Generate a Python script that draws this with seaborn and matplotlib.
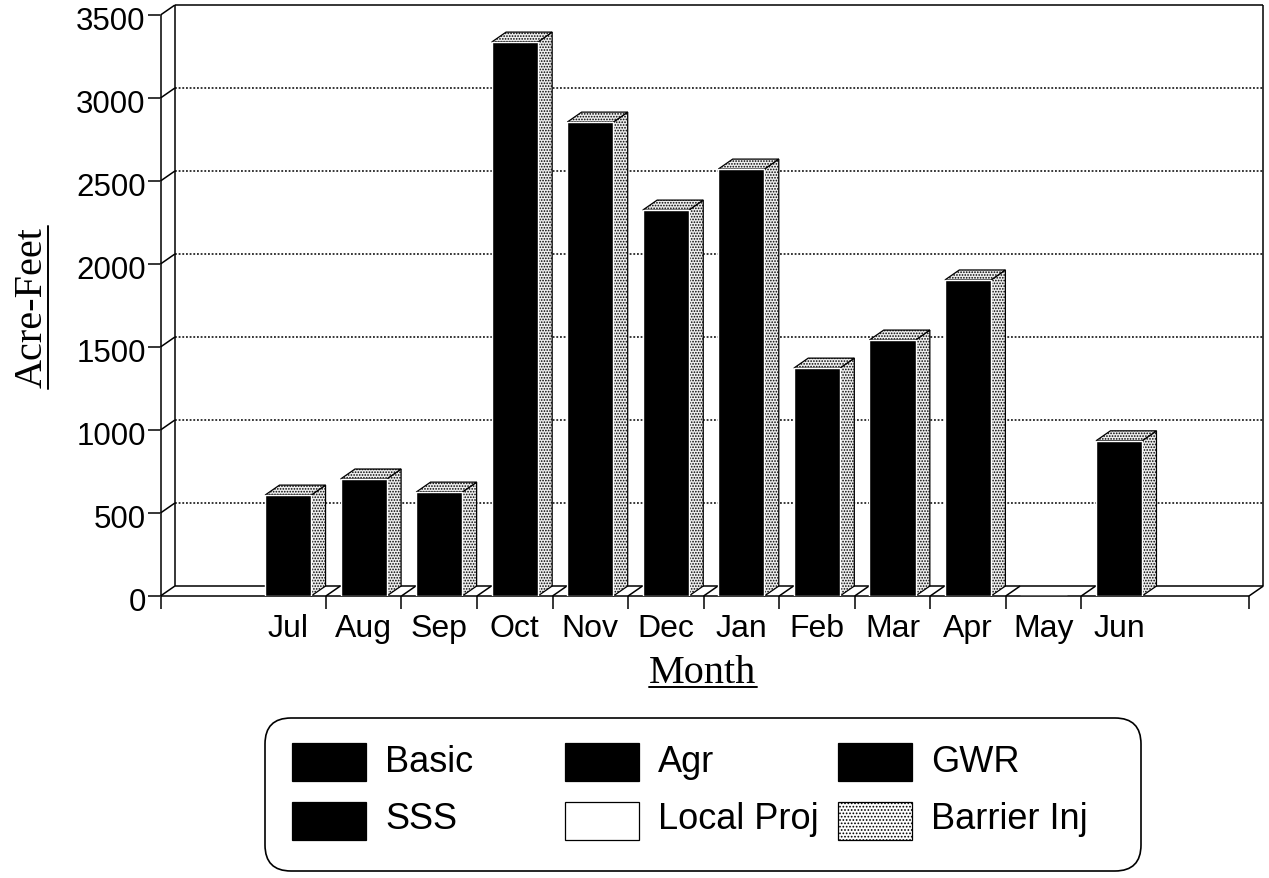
import numpy as np
import pandas as pd
import seaborn as sns
import matplotlib
matplotlib.use("Agg")
import matplotlib.pyplot as plt
from matplotlib.patches import FancyBboxPatch, Polygon, Rectangle
from matplotlib.transforms import ScaledTranslation

months = ["Jul", "Aug", "Sep", "Oct", "Nov", "Dec", "Jan", "Feb", "Mar", "Apr", "May", "Jun"]
acre_feet = [608, 705, 626, 3337, 2855, 2325, 2572, 1373, 1542, 1904, 0, 935]
y_ticks = [0, 500, 1000, 1500, 2000, 2500, 3000, 3500]
legend_names = ["Basic", "SSS", "Agr", "Local Proj", "GWR", "Barrier Inj"]
legend_fill = ["black", "black", "black", "white", "black", "white"]
legend_hatch = ["", "", "", "", "", "....."]

W, H = 1269, 879
X_MIN, X_MAX = -1.69, 12.72
# how far the back wall sits behind the front plane
DEPTH_X, DEPTH_Y = 0.19, 60

sns.set_theme(style="white")
plt.rcParams["font.family"] = ["Liberation Sans", "DejaVu Sans"]
plt.rcParams["hatch.linewidth"] = 0.8
plt.rcParams["hatch.color"] = "black"

df = pd.DataFrame({"month": months, "acre_feet": acre_feet})

fig = plt.figure(figsize=(W / 100, H / 100), dpi=100)
ax = fig.add_axes([160.5 / W, 1 - 597 / H, (1249 - 160.5) / W, (597 - 16) / H])

sns.barplot(data=df, x="month", y="acre_feet", color="black", saturation=1,
            width=0.61, ax=ax, zorder=5)
ax.set_xlim(X_MIN, X_MAX)
ax.set_ylim(0, 3500)
for s in ax.spines.values():
    s.set_visible(False)

# walls and floor
line_kw = dict(color="black", lw=1.1, clip_on=False, solid_capstyle="butt")
ax.plot([X_MIN, X_MIN], [-78, 3500], **line_kw)
ax.plot([X_MIN + DEPTH_X] * 2, [DEPTH_Y, 3500 + DEPTH_Y], **line_kw)
ax.plot([X_MAX + DEPTH_X] * 2, [DEPTH_Y, 3500 + DEPTH_Y], **line_kw)
ax.plot([X_MAX, X_MAX], [0, -78], **line_kw)
ax.plot([X_MAX, X_MAX + DEPTH_X], [0, DEPTH_Y], **line_kw)
ax.plot([X_MIN, X_MAX], [0, 0], **line_kw)
ax.plot([X_MIN + DEPTH_X, X_MAX + DEPTH_X], [DEPTH_Y, DEPTH_Y], **line_kw)
ax.plot([X_MIN + DEPTH_X, X_MAX + DEPTH_X], [3500 + DEPTH_Y] * 2, **line_kw)

# gridlines on the back wall, with the little slant back from the axis
for v in y_ticks:
    ax.plot([X_MIN, X_MIN + DEPTH_X], [v, v + DEPTH_Y], **line_kw)
    if 0 < v < 3500:
        ax.plot([X_MIN + DEPTH_X, X_MAX + DEPTH_X], [v + DEPTH_Y, v + DEPTH_Y],
                color="black", lw=1.1, ls=(0, (1.2, 1.2)), clip_on=False, zorder=1)

# month separators on the floor
for x in np.arange(len(months) - 1) + 0.5:
    ax.plot([x, x], [0, -78], **line_kw)
    ax.plot([x, x + DEPTH_X], [0, DEPTH_Y], **line_kw)

# side and top faces of each bar
face_kw = dict(facecolor="#eeeeee", edgecolor="black", hatch="......", lw=0.9,
               clip_on=False, zorder=4)
for bar in ax.patches:
    h = bar.get_height()
    if h <= 0:
        continue
    x0, x1 = bar.get_x(), bar.get_x() + bar.get_width()
    ax.add_patch(Polygon([(x1, 0), (x1 + DEPTH_X, DEPTH_Y), (x1 + DEPTH_X, h + DEPTH_Y), (x1, h)], **face_kw))
    ax.add_patch(Polygon([(x0, h), (x0 + DEPTH_X, h + DEPTH_Y), (x1 + DEPTH_X, h + DEPTH_Y), (x1, h)], **face_kw))

ax.set_yticks(y_ticks)
ax.tick_params(axis="y", labelsize=22.5, length=8.6, width=1.1, color="black", pad=2,
               labelcolor="black", left=True)
ax.tick_params(axis="x", labelsize=23, length=0, pad=12, labelcolor="black")
ax.set_xlabel("")
ax.set_ylabel("")

# the y labels sit a touch below their ticks
nudge = ScaledTranslation(0, -2.5 / 100, fig.dpi_scale_trans)
for lab in ax.get_yticklabels():
    lab.set_transform(lab.get_transform() + nudge)

# overlay in picture pixels for the axis titles and the legend box
over = fig.add_axes([0, 0, 1, 1], facecolor="none")
over.set_xlim(0, W)
over.set_ylim(H, 0)
over.axis("off")

over.text(703, 683, "Month", family="Liberation Serif", fontsize=29,
          ha="center", va="baseline", color="black")
over.text(42, 308, "Acre-Feet", family="Liberation Serif", fontsize=29,
          rotation=90, rotation_mode="anchor", ha="center", va="baseline", color="black")
over.plot([649, 757], [688, 688], color="black", lw=1.4)
over.plot([48, 48], [227, 390], color="black", lw=1.4)

over.add_patch(FancyBboxPatch((265, 719), 876, 153, boxstyle="round,pad=0,rounding_size=26",
                              facecolor="white", edgecolor="black", lw=1.2))

swatch_x = [292, 565, 838]
swatch_y = [744, 803]
baseline_y = [772, 829]
for i, name in enumerate(legend_names):
    col, row = i // 2, i % 2
    over.add_patch(Rectangle((swatch_x[col], swatch_y[row]), 74, 38, facecolor=legend_fill[i],
                             edgecolor="black", hatch=legend_hatch[i], lw=0.9))
    over.text(swatch_x[col] + 93, baseline_y[row], name, fontsize=26, va="baseline", color="black")

fig.savefig("out.png", dpi=100, facecolor="white")
